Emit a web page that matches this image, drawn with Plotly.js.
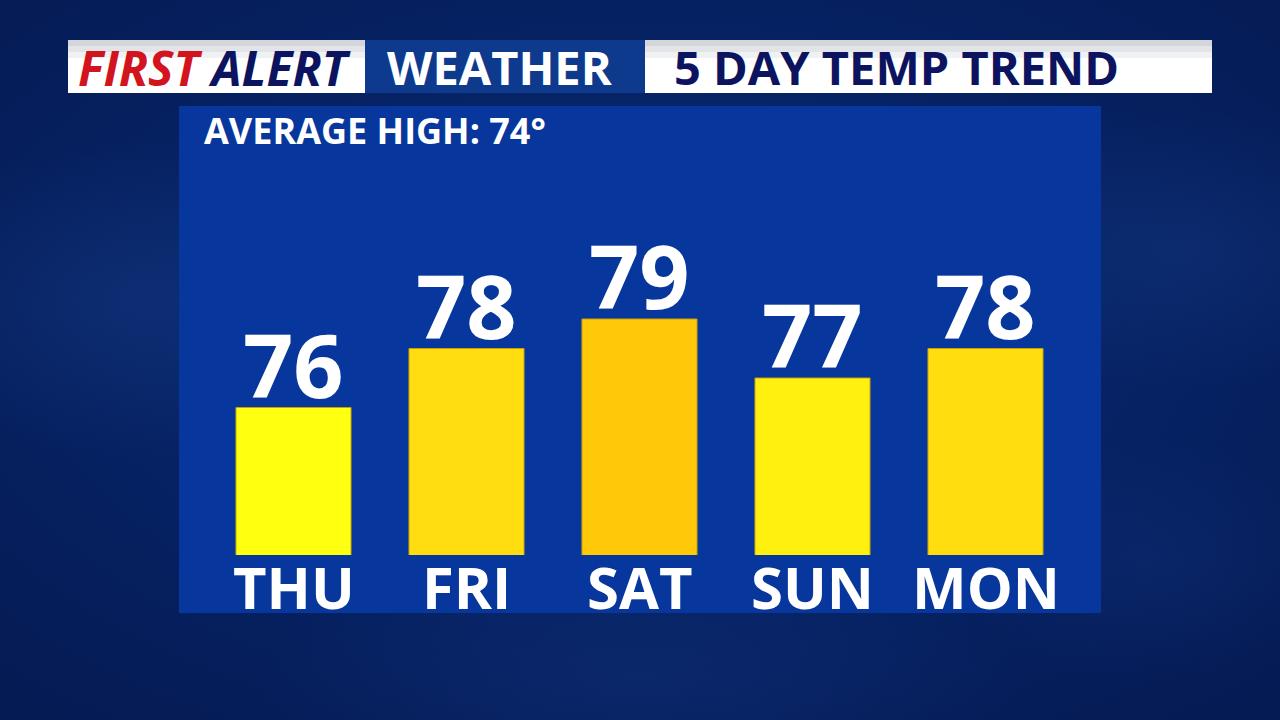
<!DOCTYPE html>
<html>
<head>
<meta charset="utf-8">
<script src="https://cdn.plot.ly/plotly-3.0.1.min.js"></script>
<style>
html,body{margin:0;padding:0;width:1280px;height:720px;overflow:hidden;}
body{
  background:
    radial-gradient(ellipse 300px 160px at 150px 300px, rgba(30,70,150,0.30), rgba(0,0,0,0)),
    radial-gradient(ellipse 260px 140px at 1180px 250px, rgba(30,70,150,0.25), rgba(0,0,0,0)),
    radial-gradient(ellipse 380px 120px at 640px 680px, rgba(25,60,140,0.28), rgba(0,0,0,0)),
    radial-gradient(ellipse 200px 120px at 1150px 560px, rgba(25,60,140,0.22), rgba(0,0,0,0)),
    radial-gradient(ellipse 900px 500px at 640px 330px, #082c78, #051b54);
}
#chart{width:1280px;height:720px;}
</style>
</head>
<body>
<div id="chart"></div>
<script>
// ---- data ----
var days = ["THU", "FRI", "SAT", "SUN", "MON"];
var highs = [76, 78, 79, 77, 78];
var barColors = ["#ffff10", "#ffdd10", "#ffc90a", "#fff00f", "#ffdd0f"];
var averageHigh = 74;
var headerLeftA = "FIRST";
var headerLeftB = "ALERT";
var headerMid = "WEATHER";
var headerRight = "5 DAY TEMP TREND";

// ---- layout geometry (pixels) ----
var W = 1280, H = 720;
var plotL = 207, plotR = 1072, plotT = 160, plotB = 555;
function px(x){ return (x - plotL) / (plotR - plotL); }
function py(y){ return (plotB - y) / (plotB - plotT); }
var FONT = "'Open Sans', 'Noto Sans', 'DejaVu Sans', sans-serif";

function rect(x0, y0, x1, y1, color){
  return {type:'rect', xref:'paper', yref:'paper', layer:'below',
    x0:px(x0), x1:px(x1), y0:py(y1), y1:py(y0),
    fillcolor:color, line:{width:0}};
}

var shapes = [
  rect(179, 106, 1101, 613, '#07379c'),
  rect(68, 40, 365, 93, '#ffffff'),
  rect(68, 40, 365, 46, '#d4d6da'),
  rect(68, 46, 365, 52, '#e2e4e7'),
  rect(68, 52, 365, 58, '#f0f1f2'),
  rect(365, 40, 645, 93, '#0e3a8e'),
  rect(645, 40, 1212, 93, '#ffffff'),
  rect(645, 40, 1212, 46, '#d4d6da'),
  rect(645, 46, 1212, 52, '#e2e4e7'),
  rect(645, 52, 1212, 58, '#f0f1f2')
];

var annotations = [
  {xref:'paper', yref:'paper', x:px(76), y:py(67), xanchor:'left', yanchor:'middle',
   showarrow:false,
   text:'<i><span style="color:#d2141e">' + headerLeftA + '</span> <span style="color:#0c1460">' + headerLeftB + '</span></i>',
   font:{family:FONT, size:48, weight:700}},
  {xref:'paper', yref:'paper', x:px(500), y:py(67), xanchor:'center', yanchor:'middle',
   showarrow:false, text:headerMid,
   font:{family:FONT, size:47, weight:700, color:'#ffffff'}},
  {xref:'paper', yref:'paper', x:px(672), y:py(67), xanchor:'left', yanchor:'middle',
   showarrow:false, text:headerRight,
   font:{family:FONT, size:47, weight:700, color:'#0c1460'}},
  {xref:'paper', yref:'paper', x:px(202), y:py(130), xanchor:'left', yanchor:'middle',
   showarrow:false, text:'AVERAGE HIGH: ' + averageHigh + '°',
   font:{family:FONT, size:36, weight:700, color:'#ffffff'}}
];

// value labels above each bar
days.forEach(function(d, i){
  annotations.push({xref:'x', yref:'y', x:d, y:highs[i], xanchor:'center', yanchor:'bottom',
    yshift:-18, showarrow:false, text:String(highs[i]),
    font:{family:FONT, size:88, weight:700, color:'#ffffff'}});
});
// day labels below each bar
days.forEach(function(d){
  annotations.push({xref:'x', yref:'paper', x:d, y:0, xanchor:'center', yanchor:'top',
    yshift:10, showarrow:false, text:d,
    font:{family:FONT, size:58, weight:700, color:'#ffffff'}});
});

var trace = {
  type:'bar',
  x: days,
  y: highs,
  marker:{color: barColors, line:{color:'#c9a200', width:1}},
  width: 0.665,
  hoverinfo:'none'
};

var layout = {
  width:W, height:H,
  margin:{l:plotL, r:W-plotR, t:plotT, b:H-plotB, pad:0},
  paper_bgcolor:'rgba(0,0,0,0)',
  plot_bgcolor:'rgba(0,0,0,0)',
  showlegend:false,
  xaxis:{type:'category', range:[-0.5, 4.5], showgrid:false, zeroline:false,
    showline:false, ticks:'', showticklabels:false},
  yaxis:{range:[71, 71 + (plotB-plotT)/29.5], showgrid:false, zeroline:false,
    showline:false, showticklabels:false, ticks:''},
  shapes:shapes,
  annotations:annotations
};

Plotly.newPlot('chart', [trace], layout, {displayModeBar:false, staticPlot:true});
</script>
</body>
</html>
